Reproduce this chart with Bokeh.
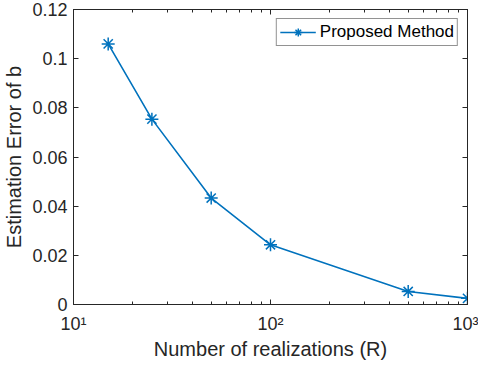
from bokeh.plotting import figure
from bokeh.models import Range1d, FixedTicker, LinearAxis, LogAxis
from bokeh.embed import file_html
from bokeh.resources import INLINE

# ---- data ----
R = [15, 25, 50, 100, 500, 1000]
err = [0.106, 0.0754, 0.0433, 0.0243, 0.0053, 0.0025]
series_name = "Proposed Method"

x_ticks = [10, 100, 1000]
x_tick_labels = ["10¹", "10²", "10³"]
x_minor_ticks = [20, 30, 40, 50, 60, 70, 80, 90, 200, 300, 400, 500, 600, 700, 800, 900]
y_ticks = [0, 0.02, 0.04, 0.06, 0.08, 0.1, 0.12]
y_tick_labels = ["0", "0.02", "0.04", "0.06", "0.08", "0.1", "0.12"]
x_label = "Number of realizations (R)"
y_label = "Estimation Error of b"

FONT = "Liberation Sans"
AX = "#262626"
BLUE = "#0072BD"

p = figure(width=478, height=364, x_axis_type="log",
           x_range=Range1d(10, 1000), y_range=Range1d(0, 0.12),
           output_backend="svg", toolbar_location=None,
           min_border_left=65, min_border_right=11,
           min_border_top=9, min_border_bottom=60)
p.grid.visible = False
p.outline_line_color = AX
p.outline_line_width = 1
p.background_fill_color = "white"
p.border_fill_color = "white"

xt = FixedTicker(ticks=x_ticks, minor_ticks=x_minor_ticks)
yt = FixedTicker(ticks=y_ticks, minor_ticks=[])


def style(ax, labels=True):
    ax.axis_line_color = AX
    ax.major_tick_line_color = AX
    ax.minor_tick_line_color = AX
    ax.major_tick_in = 5
    ax.major_tick_out = 0
    ax.minor_tick_in = 3
    ax.minor_tick_out = 0
    ax.major_label_text_font = FONT
    ax.major_label_text_color = AX
    ax.axis_label_text_font = FONT
    ax.axis_label_text_color = AX
    ax.axis_label_text_font_style = "normal"
    ax.axis_label_text_font_size = "20px"
    if labels:
        ax.major_label_text_font_size = "18px"
    else:
        ax.major_label_text_font_size = "1px"
        ax.major_label_text_alpha = 0
        ax.major_label_standoff = 0


xa = p.xaxis[0]
xa.ticker = xt
style(xa)
xa.major_label_overrides = dict(zip(x_ticks, x_tick_labels))
xa.axis_label = x_label
xa.major_label_standoff = 9
xa.axis_label_standoff = 1

ya = p.yaxis[0]
ya.ticker = yt
style(ya)
ya.major_label_overrides = dict(zip(y_ticks, y_tick_labels))
ya.axis_label = y_label
ya.major_label_standoff = 6
ya.axis_label_standoff = 4

top = LogAxis(ticker=FixedTicker(ticks=x_ticks, minor_ticks=x_minor_ticks))
style(top, labels=False)
p.add_layout(top, "above")

right = LinearAxis(ticker=FixedTicker(ticks=y_ticks, minor_ticks=[]))
style(right, labels=False)
p.add_layout(right, "right")

p.line(R, err, line_color=BLUE, line_width=1.6, legend_label=series_name)
p.scatter(R, err, marker="asterisk", size=13, line_color=BLUE, line_width=1.5,
          legend_label=series_name)

lg = p.legend[0]
lg.location = "top_right"
lg.margin = 9
lg.padding = 3
lg.spacing = 0
lg.glyph_width = 36
lg.glyph_height = 20
lg.label_standoff = 4
lg.label_text_font = FONT
lg.label_text_font_size = "17px"
lg.label_text_color = "black"
lg.border_line_color = AX
lg.border_line_width = 1
lg.background_fill_color = "white"
lg.background_fill_alpha = 1

open("out.html", "w").write(file_html(p, INLINE))
